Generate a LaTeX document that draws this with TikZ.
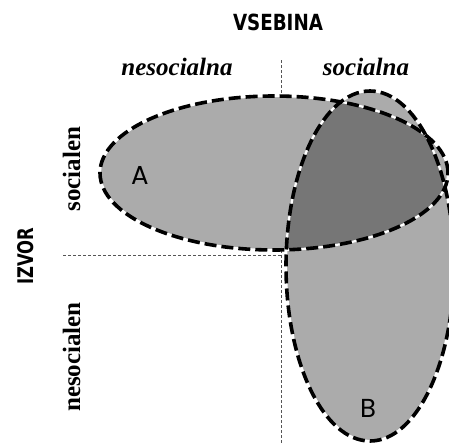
\documentclass[tikz,border=0pt]{standalone}
\usepackage{fontspec}
\setmainfont{Liberation Serif}
\newfontfamily\hdfont{DejaVu Sans}
\newfontfamily\letfont{Poppins}
\definecolor{setgray}{HTML}{ABABAB}
\definecolor{overgray}{HTML}{767676}
\definecolor{guidegray}{HTML}{555555}
\begin{document}
\begin{tikzpicture}[x=1pt,y=-1pt,
  guide/.style={guidegray, line width=0.9pt, dash pattern=on 3pt off 2pt},
  outline/.style={black, line width=3.6pt, dash pattern=on 12pt off 5pt},
  gapline/.style={white, line width=2.2pt},
  head/.style={font=\hdfont\bfseries\fontsize{23}{23}\selectfont},
  cat/.style={font=\bfseries\fontsize{25}{25}\selectfont},
  catit/.style={font=\bfseries\itshape\fontsize{25}{25}\selectfont},
  letter/.style={font=\letfont\fontsize{26}{26}\selectfont}]
\useasboundingbox (0,0) rectangle (449,444);
\begin{scope}
\clip (0,0) rectangle (449,444);
\draw[guide] (281,60) -- (281,444);
\draw[guide] (63,255) -- (281,255);
\fill[setgray] (274,173) ellipse [x radius=174pt, y radius=77pt];
\fill[setgray] (370,266) ellipse [x radius=84pt, y radius=175pt];
\begin{scope}
\clip (274,173) ellipse [x radius=174pt, y radius=77pt];
\fill[overgray] (370,266) ellipse [x radius=84pt, y radius=175pt];
\end{scope}
\draw[gapline] (274,173) ellipse [x radius=174pt, y radius=77pt];
\draw[gapline] (370,266) ellipse [x radius=84pt, y radius=175pt];
\draw[outline] (274,173) ellipse [x radius=174pt, y radius=77pt];
\draw[outline] (370,266) ellipse [x radius=84pt, y radius=175pt];
\end{scope}
\node[head, inner sep=0pt] (vsebina) at (278,22) {\resizebox{90pt}{16.5pt}{VSEBINA}};
\node[catit, anchor=base] (nesocialna) at (177,75) {nesocialna};
\node[catit, anchor=base] (socialna) at (366,75) {socialna};
\node[cat, rotate=90, anchor=base] (socialen) at (80,169) {socialen};
\node[cat, rotate=90, anchor=base] (nesocialen) at (80,357) {nesocialen};
\node[head, rotate=90, anchor=base, inner sep=0pt] (izvor) at (33,256) {\resizebox{57pt}{16pt}{IZVOR}};
\node[letter] (A) at (140,175) {A};
\node[letter] (B) at (368,408) {B};
\end{tikzpicture}
\end{document}
